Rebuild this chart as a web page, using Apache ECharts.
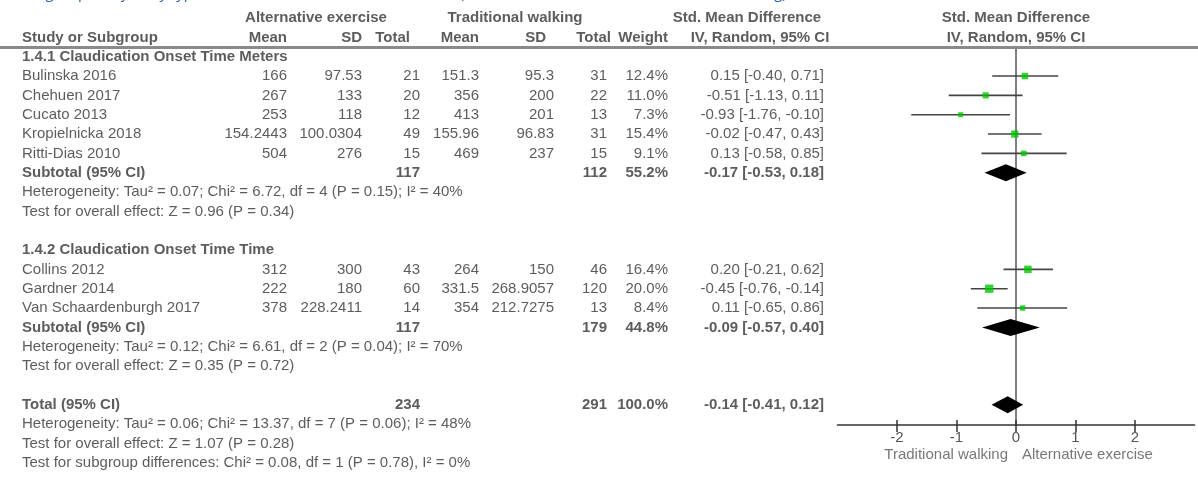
<!DOCTYPE html>
<html>
<head>
<meta charset="utf-8">
<script src="https://cdn.jsdelivr.net/npm/echarts@6/dist/echarts.min.js"></script>
<style>
  html, body { margin: 0; padding: 0; background: #fff; }
  #chart { width: 1198px; height: 477px; }
</style>
</head>
<body>
<div id="chart"></div>
<script>
// ---------------- data ----------------
const captionText = 'Subgroup analysis by type of outcome: claudication onset time (alternative exercise versus traditional walking)';

const headerGroupAlt = 'Alternative exercise';
const headerGroupTrad = 'Traditional walking';
const headerEffect = 'Std. Mean Difference';
const headerMethod = 'IV, Random, 95% CI';
const headerColumns = ['Study or Subgroup', 'Mean', 'SD', 'Total', 'Mean', 'SD', 'Total', 'Weight'];

const group1Title = '1.4.1 Claudication Onset Time Meters';
const group1Studies = ['Bulinska 2016', 'Chehuen 2017', 'Cucato 2013', 'Kropielnicka 2018', 'Ritti-Dias 2010'];
const group1AltMean = [166, 267, 253, 154.2443, 504];
const group1AltSD = [97.53, 133, 118, 100.0304, 276];
const group1AltN = [21, 20, 12, 49, 15];
const group1TrMean = [151.3, 356, 413, 155.96, 469];
const group1TrSD = [95.3, 200, 201, 96.83, 237];
const group1TrN = [31, 22, 13, 31, 15];
const group1Weight = [12.4, 11.0, 7.3, 15.4, 9.1];
const group1Smd = [0.15, -0.51, -0.93, -0.02, 0.13];
const group1Lo = [-0.40, -1.13, -1.76, -0.47, -0.58];
const group1Hi = [0.71, 0.11, -0.10, 0.43, 0.85];
const group1Notes = [
  'Heterogeneity: Tau\u00B2 = 0.07; Chi\u00B2 = 6.72, df = 4 (P = 0.15); I\u00B2 = 40%',
  'Test for overall effect: Z = 0.96 (P = 0.34)'
];

const group2Title = '1.4.2 Claudication Onset Time Time';
const group2Studies = ['Collins 2012', 'Gardner 2014', 'Van Schaardenburgh 2017'];
const group2AltMean = [312, 222, 378];
const group2AltSD = [300, 180, 228.2411];
const group2AltN = [43, 60, 14];
const group2TrMean = [264, 331.5, 354];
const group2TrSD = [150, 268.9057, 212.7275];
const group2TrN = [46, 120, 13];
const group2Weight = [16.4, 20.0, 8.4];
const group2Smd = [0.20, -0.45, 0.11];
const group2Lo = [-0.21, -0.76, -0.65];
const group2Hi = [0.62, -0.14, 0.86];
const group2Notes = [
  'Heterogeneity: Tau\u00B2 = 0.12; Chi\u00B2 = 6.61, df = 2 (P = 0.04); I\u00B2 = 70%',
  'Test for overall effect: Z = 0.35 (P = 0.72)'
];

// pooled rows: subtotal 1, subtotal 2, overall total
const pooledLabels = ['Subtotal (95% CI)', 'Subtotal (95% CI)', 'Total (95% CI)'];
const pooledAltN = [117, 117, 234];
const pooledTrN = [112, 179, 291];
const pooledWeight = [55.2, 44.8, 100.0];
const pooledSmd = [-0.17, -0.09, -0.14];
const pooledLo = [-0.53, -0.57, -0.41];
const pooledHi = [0.18, 0.40, 0.12];
const totalNotes = [
  'Heterogeneity: Tau\u00B2 = 0.06; Chi\u00B2 = 13.37, df = 7 (P = 0.06); I\u00B2 = 48%',
  'Test for overall effect: Z = 1.07 (P = 0.28)',
  'Test for subgroup differences: Chi\u00B2 = 0.08, df = 1 (P = 0.78), I\u00B2 = 0%'
];

const xTicks = [-2, -1, 0, 1, 2];
const favoursLeft = 'Traditional walking';
const favoursRight = 'Alternative exercise';

// ---------------- layout ----------------
const W = 1198, H = 477;
const ROW0_Y = 56.7;      // pixel centre of row 0
const PITCH = 19.335;     // row height
const FONT = '"Liberation Sans", Arial, sans-serif';
const TEXT = '#333';
const COL = {
  name: 22, altMean: 287, altSD: 362, altN: 420, trMean: 479, trSD: 554,
  trN: 607, weight: 668, ci: 824,
  hAltN: 410, hTrSD: 546, hTrN: 611,
  grpAlt: 316, grpTrad: 515, effect: 747, method: 760,
  plotCentre: 1016, favL: 1008, favR: 1022
};
const PLOT_LEFT = 837.5, PLOT_RIGHT = 1194.5, AXIS_Y = 425;
const TABLE_MIN = -2.5, TABLE_MAX = 21.5;
const PLOT_MIN = -0.5;
const PLOT_MAX = (AXIS_Y - ROW0_Y) / PITCH;

// ---------------- build rows ----------------
const cells = [];
function cell(x, row, text, align, bold, color) {
  cells.push({
    value: [x, row],
    label: {
      formatter: String(text),
      align: align || 'right',
      fontWeight: bold ? 'bold' : 'normal',
      color: color || TEXT
    }
  });
}
const fmtCI = (e, l, h) => `${e.toFixed(2)} [${l.toFixed(2)}, ${h.toFixed(2)}]`;
const fmtW = (w) => w.toFixed(1) + '%';

const ciLines = [];   // [lo, hi, row]
const squares = [];   // [smd, row, weight]
const diamonds = [];  // [lo, est, hi, row]

// headers
cell(COL.grpAlt, -2, headerGroupAlt, 'center', true);
cell(COL.grpTrad, -2, headerGroupTrad, 'center', true);
cell(COL.effect, -2, headerEffect, 'center', true);
cell(COL.plotCentre, -2, headerEffect, 'center', true);
cell(COL.name, -1, headerColumns[0], 'left', true);
cell(COL.altMean, -1, headerColumns[1], 'right', true);
cell(COL.altSD, -1, headerColumns[2], 'right', true);
cell(COL.hAltN, -1, headerColumns[3], 'right', true);
cell(COL.trMean, -1, headerColumns[4], 'right', true);
cell(COL.hTrSD, -1, headerColumns[5], 'right', true);
cell(COL.hTrN, -1, headerColumns[6], 'right', true);
cell(COL.weight, -1, headerColumns[7], 'right', true);
cell(COL.method, -1, headerMethod, 'center', true);
cell(COL.plotCentre, -1, headerMethod, 'center', true);

function addGroup(startRow, title, names, am, asd, an, tm, tsd, tn, w, smd, lo, hi, pooledIdx, notes) {
  let r = startRow;
  cell(COL.name, r, title, 'left', true);
  r++;
  names.forEach((n, i) => {
    cell(COL.name, r, n, 'left');
    cell(COL.altMean, r, am[i]);
    cell(COL.altSD, r, asd[i]);
    cell(COL.altN, r, an[i]);
    cell(COL.trMean, r, tm[i]);
    cell(COL.trSD, r, tsd[i]);
    cell(COL.trN, r, tn[i]);
    cell(COL.weight, r, fmtW(w[i]));
    cell(COL.ci, r, fmtCI(smd[i], lo[i], hi[i]));
    ciLines.push([lo[i], hi[i], r]);
    squares.push([smd[i], r, w[i]]);
    r++;
  });
  addPooled(r, pooledIdx);
  r++;
  notes.forEach(t => { cell(COL.name, r, t, 'left'); r++; });
  return r;
}
function addPooled(r, k) {
  cell(COL.name, r, pooledLabels[k], 'left', true);
  cell(COL.altN, r, pooledAltN[k], 'right', true);
  cell(COL.trN, r, pooledTrN[k], 'right', true);
  cell(COL.weight, r, fmtW(pooledWeight[k]), 'right', true);
  cell(COL.ci, r, fmtCI(pooledSmd[k], pooledLo[k], pooledHi[k]), 'right', true);
  diamonds.push([pooledLo[k], pooledSmd[k], pooledHi[k], r]);
}

let row = addGroup(0, group1Title, group1Studies, group1AltMean, group1AltSD, group1AltN,
  group1TrMean, group1TrSD, group1TrN, group1Weight, group1Smd, group1Lo, group1Hi, 0, group1Notes);
row++;
row = addGroup(row, group2Title, group2Studies, group2AltMean, group2AltSD, group2AltN,
  group2TrMean, group2TrSD, group2TrN, group2Weight, group2Smd, group2Lo, group2Hi, 1, group2Notes);
row++;
addPooled(row, 2);
row++;
totalNotes.forEach(t => { cell(COL.name, row, t, 'left'); row++; });

// favours labels under the axis
const favRow = (455 - ROW0_Y) / PITCH;
cell(COL.favL, favRow, favoursLeft, 'right', false, '#555');
cell(COL.favR, favRow, favoursRight, 'left', false, '#555');

// ---------------- chart ----------------
const chart = echarts.init(document.getElementById('chart'), null, { renderer: 'canvas' });
const tableTop = ROW0_Y + TABLE_MIN * PITCH;
const plotTop = ROW0_Y + PLOT_MIN * PITCH;

const option = {
  animation: false,
  textStyle: { fontFamily: FONT },
  title: {
    text: captionText,
    left: 14,
    top: -19,
    textStyle: { fontFamily: '"Open Sans", sans-serif', fontSize: 15, fontWeight: 'normal', color: '#2f62b5' }
  },
  grid: [
    { left: 0, top: tableTop, width: W, height: (TABLE_MAX - TABLE_MIN) * PITCH },
    { left: PLOT_LEFT, top: plotTop, width: PLOT_RIGHT - PLOT_LEFT, height: AXIS_Y - plotTop }
  ],
  xAxis: [
    { gridIndex: 0, type: 'value', min: 0, max: W, show: false },
    {
      gridIndex: 1, type: 'value', min: -3, max: 3, position: 'bottom',
      axisLine: { show: true, onZero: false, lineStyle: { color: '#333', width: 1.5 } },
      axisTick: { show: true, inside: false, length: 7, customValues: xTicks, lineStyle: { color: '#333', width: 1.5 } },
      axisLabel: { show: true, customValues: xTicks, margin: 5, color: '#555', fontSize: 15, fontFamily: FONT },
      splitLine: { show: false }
    },
    {
      gridIndex: 1, type: 'value', min: -3, max: 3, position: 'bottom',
      axisLine: { show: false, onZero: false },
      axisTick: { show: true, inside: true, length: 5, customValues: xTicks, lineStyle: { color: '#333', width: 1.5 } },
      axisLabel: { show: false },
      splitLine: { show: false }
    }
  ],
  yAxis: [
    { gridIndex: 0, type: 'value', min: TABLE_MIN, max: TABLE_MAX, inverse: true, show: false },
    {
      gridIndex: 1, type: 'value', min: PLOT_MIN, max: PLOT_MAX, inverse: true,
      axisLine: { show: true, onZero: true, onZeroAxisIndex: 1, lineStyle: { color: '#555', width: 1.5 } },
      axisTick: { show: false }, axisLabel: { show: false }, splitLine: { show: false }
    }
  ],
  series: [
    {
      // table text
      type: 'scatter', xAxisIndex: 0, yAxisIndex: 0,
      symbolSize: 0, silent: true,
      label: {
        show: true, position: [0, 0], verticalAlign: 'middle',
        fontSize: 15, fontFamily: FONT, color: TEXT
      },
      data: cells,
      markLine: {
        silent: true, symbol: 'none', label: { show: false },
        lineStyle: { color: '#8a8a8a', width: 3, type: 'solid' },
        data: [{ yAxis: -0.5 }]
      }
    },
    {
      // confidence intervals
      type: 'custom', xAxisIndex: 1, yAxisIndex: 1, silent: true,
      encode: { x: [0, 1], y: 2 },
      data: ciLines,
      renderItem(params, api) {
        const a = api.coord([api.value(0), api.value(2)]);
        const b = api.coord([api.value(1), api.value(2)]);
        return {
          type: 'line',
          shape: { x1: a[0], y1: a[1], x2: b[0], y2: b[1] },
          style: { stroke: '#444', lineWidth: 1.6 }
        };
      },
      z: 3
    },
    {
      // study estimates, sized by weight
      type: 'scatter', xAxisIndex: 1, yAxisIndex: 1, silent: true,
      symbol: 'rect',
      symbolSize: (v) => 1.85 * Math.sqrt(v[2]),
      itemStyle: { color: '#00c800' },
      data: squares,
      z: 4
    },
    {
      // pooled estimates
      type: 'custom', xAxisIndex: 1, yAxisIndex: 1, silent: true,
      encode: { x: [0, 1, 2], y: 3 },
      data: diamonds,
      renderItem(params, api) {
        const y = api.value(3);
        const l = api.coord([api.value(0), y]);
        const c = api.coord([api.value(1), y]);
        const r = api.coord([api.value(2), y]);
        const h = 8.5;
        return {
          type: 'polygon',
          shape: { points: [[l[0], l[1]], [c[0], c[1] - h], [r[0], r[1]], [c[0], c[1] + h]] },
          style: { fill: '#000' }
        };
      },
      z: 5
    }
  ]
};
chart.setOption(option);
</script>
</body>
</html>
